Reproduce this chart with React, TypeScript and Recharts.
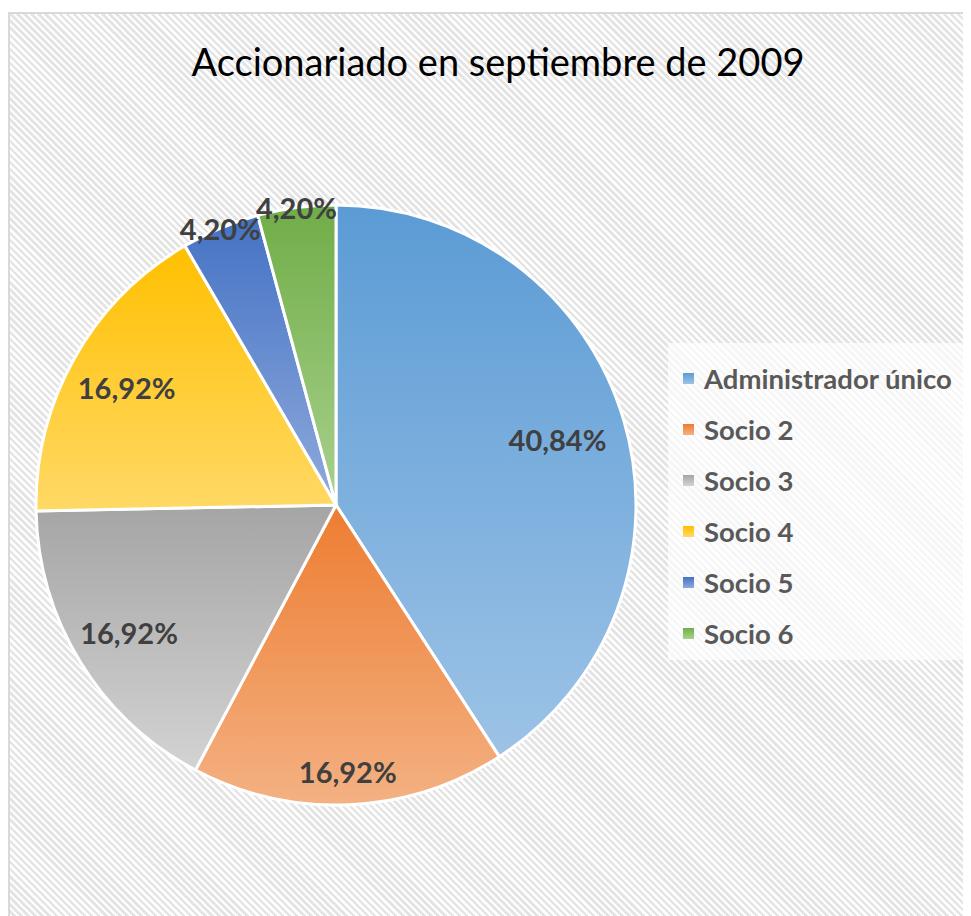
import { PieChart, Pie, Cell, Legend } from "recharts";

const names = ["Administrador único", "Socio 2", "Socio 3", "Socio 4", "Socio 5", "Socio 6"];
const shares = [40.84, 16.92, 16.92, 16.92, 4.2, 4.2];

const TOP_COLORS = ["#5B9BD5", "#ED7D31", "#A5A5A5", "#FFC000", "#4472C4", "#70AD47"];
const BOTTOM_COLORS = ["#9DC3E6", "#F4B183", "#D3D3D3", "#FFD966", "#8FAADC", "#A9D18E"];
// how far out each label sits, as a share of the radius
const LABEL_RADII = [0.77, 0.89, 0.81, 0.8, 1.0, 1.0];

const data = names.map((name, i) => ({ name, value: shares[i] }));

const RAD = Math.PI / 180;

const fmt = (v: number) => v.toFixed(2).replace(".", ",") + "%";

const renderLabel = ({ cx, cy, midAngle, outerRadius, index, value }: any) => {
  const r = outerRadius * LABEL_RADII[index];
  const x = cx + r * Math.cos(-midAngle * RAD);
  const y = cy + r * Math.sin(-midAngle * RAD);
  return (
    <text
      x={x}
      y={y}
      textAnchor="middle"
      dominantBaseline="central"
      fill="#404040"
      fontFamily="Lato"
      fontWeight={700}
      fontSize={29}
    >
      {fmt(value)}
    </text>
  );
};

const LegendBox = () => (
  <div
    style={{
      background: "rgba(255,255,255,0.65)",
      width: 310,
      height: 317,
      boxSizing: "border-box",
      paddingTop: 10,
      paddingLeft: 15,
      fontFamily: "Lato",
    }}
  >
    {names.map((n, i) => (
      <div key={n} style={{ display: "flex", alignItems: "center", height: 51 }}>
        <div
          style={{
            width: 11,
            height: 11,
            marginRight: 10,
            background: `linear-gradient(${TOP_COLORS[i]}, ${BOTTOM_COLORS[i]})`,
          }}
        />
        <span style={{ fontSize: 27.5, fontWeight: 700, color: "#595959" }}>{n}</span>
      </div>
    ))}
  </div>
);

export default function App() {
  return (
    <div style={{ position: "relative", width: 963, height: 904, marginTop: 4, overflow: "hidden" }}>
      <style>{"body{overflow:hidden}"}</style>
      <div
        style={{
          position: "absolute",
          inset: 0,
          width: 970,
          height: 910,
          border: "2px solid #d9d9d9",
          background:
            "repeating-linear-gradient(45deg, #fdfdfd 0px, #fdfdfd 2.5px, #e4e4e4 2.5px, #e4e4e4 5px)",
        }}
      />
      <div
        style={{
          position: "absolute",
          top: 26,
          left: 0,
          width: 980,
          textAlign: "center",
          fontFamily: "Lato",
          fontSize: 38,
          color: "#000",
        }}
      >
        Accionariado en septiembre de 2009
      </div>
      <PieChart width={963} height={904} style={{ position: "absolute", top: 0, left: 0 }}>
        <defs>
          {TOP_COLORS.map((c, i) => (
            <linearGradient key={i} id={`grad${i}`} x1="0" y1="0" x2="0" y2="1">
              <stop offset="0%" stopColor={c} />
              <stop offset="100%" stopColor={BOTTOM_COLORS[i]} />
            </linearGradient>
          ))}
        </defs>
        <Pie
          data={data}
          dataKey="value"
          nameKey="name"
          cx={323}
          cy={488}
          outerRadius={300}
          startAngle={90}
          endAngle={-270}
          stroke="#fff"
          strokeWidth={3}
          label={renderLabel}
          labelLine={false}
          isAnimationActive={false}
        >
          {data.map((_, i) => (
            <Cell key={i} fill={`url(#grad${i})`} />
          ))}
        </Pie>
        <Legend
          content={<LegendBox />}
          wrapperStyle={{ position: "absolute", left: 660, top: 331, width: 310, height: 317 }}
        />
      </PieChart>
    </div>
  );
}
